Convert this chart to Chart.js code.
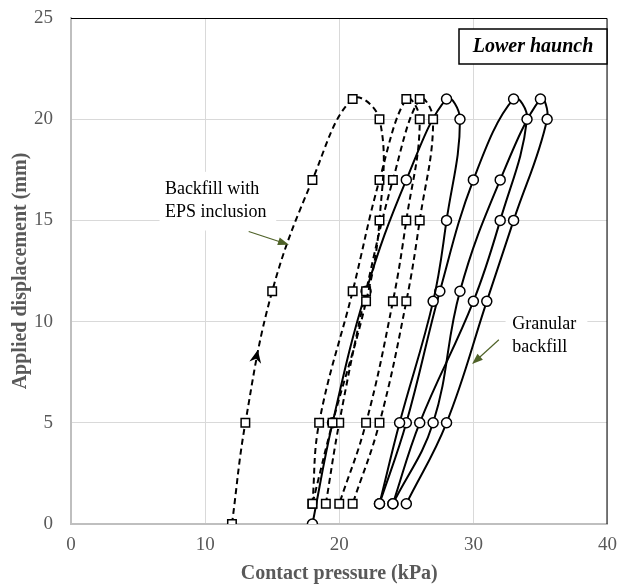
<!DOCTYPE html>
<html>
<head>
<meta charset="utf-8">
<script src="https://cdn.jsdelivr.net/npm/chart.js@4/dist/chart.umd.min.js"></script>
<style>
  body { margin: 0; background: #fff; }
</style>
</head>
<body>
<canvas id="plot" width="627" height="588"></canvas>
<script>
// displacement (mm) at each reading, first loading and reload cycles
const loadDisp1 = [0, 5, 11.5, 17, 21, 20, 15, 11, 5, 1];
const cycleDisp = [1, 5, 11.5, 17, 21, 20, 15, 11, 5, 1];

// contact pressure (kPa), backfill with EPS inclusion
const epsPress1 = [12, 13, 15, 18, 21, 23, 23, 22, 19.5, 18];
const epsPress2 = [18, 18.5, 21, 23, 25, 26, 25, 24, 22, 20];
const epsPress3 = [19, 20, 22, 24, 26, 27, 26, 25, 23, 21];

// contact pressure (kPa), granular backfill
const granPress1 = [18, 19.5, 22, 25, 28, 29, 28, 27, 24.5, 23];
const granPress2 = [23, 25, 27.5, 30, 33, 34, 32, 30, 26, 24];
const granPress3 = [24, 27, 29, 32, 35, 35.5, 33, 31, 28, 25];

const xTicks = [0, 10, 20, 30, 40];
const yTicks = [0, 5, 10, 15, 20, 25];

const serif = '"Liberation Serif", "Times New Roman", serif';
const gray = '#595959';
const arrowGreen = '#4f6228';

function pts(px, py) {
    return px.map((x, i) => ({ x: x, y: py[i] }));
}

function epsSet(px, py) {
    return {
        data: pts(px, py),
        showLine: true,
        borderColor: '#000',
        borderWidth: 2,
        borderDash: [6, 4],
        tension: 0.4,
        pointStyle: 'rect',
        pointRadius: 6,
        pointBorderWidth: 1.5,
        pointBackgroundColor: '#fff',
        pointBorderColor: '#000'
    };
}

function granSet(px, py) {
    return {
        data: pts(px, py),
        showLine: true,
        borderColor: '#000',
        borderWidth: 2,
        tension: 0.4,
        pointStyle: 'circle',
        pointRadius: 5,
        pointBorderWidth: 1.5,
        pointBackgroundColor: '#fff',
        pointBorderColor: '#000'
    };
}

function arrowLine(ctx, x1, y1, x2, y2, color) {
    const ang = Math.atan2(y2 - y1, x2 - x1);
    const len = 11, half = 4;
    ctx.save();
    ctx.strokeStyle = color;
    ctx.fillStyle = color;
    ctx.lineWidth = 1.2;
    ctx.beginPath();
    ctx.moveTo(x1, y1);
    ctx.lineTo(x2 - Math.cos(ang) * len * 0.8, y2 - Math.sin(ang) * len * 0.8);
    ctx.stroke();
    ctx.beginPath();
    ctx.moveTo(x2, y2);
    ctx.lineTo(x2 - Math.cos(ang) * len + Math.sin(ang) * half, y2 - Math.sin(ang) * len - Math.cos(ang) * half);
    ctx.lineTo(x2 - Math.cos(ang) * len - Math.sin(ang) * half, y2 - Math.sin(ang) * len + Math.cos(ang) * half);
    ctx.closePath();
    ctx.fill();
    ctx.restore();
}

const decorations = {
    id: 'decorations',
    beforeDatasetsDraw(chart) {
        const ctx = chart.ctx;
        const xs = chart.scales.x, ys = chart.scales.y;
        ctx.save();
        // white label boxes over the grid
        ctx.fillStyle = '#fff';
        let l = xs.getPixelForValue(6.6), r = xs.getPixelForValue(15.3);
        let t = ys.getPixelForValue(17.4), b = ys.getPixelForValue(14.5);
        ctx.fillRect(l, t, r - l, b - t);
        l = xs.getPixelForValue(32.4); r = xs.getPixelForValue(38.5);
        t = ys.getPixelForValue(10.6); b = ys.getPixelForValue(8.1);
        ctx.fillRect(l, t, r - l, b - t);

        ctx.fillStyle = '#000';
        ctx.font = '18px ' + serif;
        ctx.textBaseline = 'middle';
        ctx.textAlign = 'left';
        ctx.fillText('Backfill with', xs.getPixelForValue(7.0), ys.getPixelForValue(16.55));
        ctx.fillText('EPS inclusion', xs.getPixelForValue(7.0), ys.getPixelForValue(15.4));
        ctx.fillText('Granular', xs.getPixelForValue(32.9), ys.getPixelForValue(9.85));
        ctx.fillText('backfill', xs.getPixelForValue(32.9), ys.getPixelForValue(8.75));
        ctx.restore();
    },
    afterDatasetsDraw(chart) {
        const ctx = chart.ctx;
        const xs = chart.scales.x, ys = chart.scales.y;
        const a = chart.chartArea;

        // plot frame: dark top and right edges
        ctx.save();
        ctx.strokeStyle = '#000';
        ctx.lineWidth = 1;
        ctx.beginPath();
        ctx.moveTo(a.left, a.top + 0.5);
        ctx.lineTo(a.right - 0.5, a.top + 0.5);
        ctx.lineTo(a.right - 0.5, a.bottom);
        ctx.stroke();
        ctx.restore();

        // pointer arrows from labels
        arrowLine(ctx, xs.getPixelForValue(13.25), ys.getPixelForValue(14.45),
            xs.getPixelForValue(16.25), ys.getPixelForValue(13.8), arrowGreen);
        arrowLine(ctx, xs.getPixelForValue(31.9), ys.getPixelForValue(9.1),
            xs.getPixelForValue(29.9), ys.getPixelForValue(7.9), arrowGreen);

        // direction arrow on first loading curve
        const x0 = xs.getPixelForValue(13), y0 = ys.getPixelForValue(5);
        const x1 = xs.getPixelForValue(15), y1 = ys.getPixelForValue(11.5);
        const ang = Math.atan2(y1 - y0, x1 - x0);
        const tx = xs.getPixelForValue(13.93), ty = ys.getPixelForValue(8.6);
        ctx.save();
        ctx.translate(tx, ty);
        ctx.rotate(ang);
        ctx.fillStyle = '#000';
        ctx.beginPath();
        ctx.moveTo(0, 0);
        ctx.lineTo(-13, -6);
        ctx.lineTo(-9, 0);
        ctx.lineTo(-13, 6);
        ctx.closePath();
        ctx.fill();
        ctx.restore();

        // "Lower haunch" box
        ctx.save();
        ctx.fillStyle = '#fff';
        ctx.fillRect(459, 29, 148, 35);
        ctx.strokeStyle = '#000';
        ctx.lineWidth = 1.5;
        ctx.strokeRect(459, 29, 148, 35);
        ctx.fillStyle = '#000';
        ctx.font = 'italic bold 20px ' + serif;
        ctx.textAlign = 'center';
        ctx.textBaseline = 'middle';
        ctx.fillText('Lower haunch', 533, 47);
        ctx.restore();
    }
};

new Chart(document.getElementById('plot'), {
    type: 'scatter',
    data: {
        datasets: [
            epsSet(epsPress1, loadDisp1),
            epsSet(epsPress2, cycleDisp),
            epsSet(epsPress3, cycleDisp),
            granSet(granPress1, loadDisp1),
            granSet(granPress2, cycleDisp),
            granSet(granPress3, cycleDisp)
        ]
    },
    options: {
        responsive: false,
        animation: false,
        layout: {
            padding: { top: 18, right: 10, left: 0, bottom: 0 }
        },
        plugins: {
            legend: { display: false },
            tooltip: { enabled: false }
        },
        scales: {
            x: {
                type: 'linear',
                min: 0,
                max: 40,
                afterBuildTicks: (s) => { s.ticks = xTicks.map(v => ({ value: v })); },
                afterFit: (s) => { s.height = 64; },
                grid: { color: '#d9d9d9', drawTicks: false },
                border: { color: '#bfbfbf', width: 2 },
                ticks: { color: gray, padding: 10, font: { family: serif, size: 19 } },
                title: {
                    display: true,
                    text: 'Contact pressure (kPa)',
                    color: gray,
                    padding: { top: 0, bottom: 2 },
                    font: { family: serif, size: 20, weight: 'bold' }
                }
            },
            y: {
                type: 'linear',
                min: 0,
                max: 25,
                afterBuildTicks: (s) => { s.ticks = yTicks.map(v => ({ value: v })); },
                afterFit: (s) => {
                    s.width = 71;
                    s.paddingTop = 0;
                    s.paddingBottom = 0;
                },
                grid: { color: '#d9d9d9', drawTicks: false },
                border: { color: '#bfbfbf', width: 2 },
                ticks: { color: gray, padding: 18, font: { family: serif, size: 19 } },
                title: {
                    display: true,
                    text: 'Applied displacement (mm)',
                    color: gray,
                    padding: { top: 9, bottom: 0 },
                    font: { family: serif, size: 20, weight: 'bold' }
                }
            }
        }
    },
    plugins: [decorations]
});
</script>
</body>
</html>
